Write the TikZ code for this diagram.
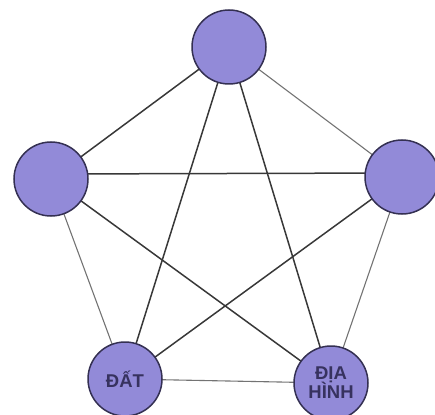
\documentclass[tikz,border=0pt]{standalone}
\usepackage{fontspec}
\setmainfont{Liberation Sans}
\definecolor{nodefill}{RGB}{146,138,216}
\definecolor{nodeedge}{RGB}{52,48,82}
\definecolor{txt}{RGB}{55,50,95}
\begin{document}
\begin{tikzpicture}[x=1pt,y=-1pt,
  ball/.style={circle,draw=nodeedge,line width=1.5pt,fill=nodefill,minimum size=74pt,inner sep=0pt,
    font=\fontsize{18.5}{20}\selectfont\bfseries,text=txt,align=center},
  star/.style={draw=black!78,line width=1.5pt},
  rim/.style={draw=black!55,line width=1.1pt}]
\useasboundingbox (0,0) rectangle (435,414);
\coordinate (t) at (229,47);
\coordinate (l) at (51,179);
\coordinate (r) at (402,177);
\coordinate (d) at (125,379);
\coordinate (h) at (331,383);
\draw[star] (t) -- (l);
\draw[rim] (t) -- (r);
\draw[rim] (l) -- (d);
\draw[rim] (r) -- (h);
\draw[rim] (d) -- (h);
\draw[star] (t) -- (d);
\draw[star] (t) -- (h);
\draw[star] ([yshift=5pt]l) -- ([yshift=4pt]r);
\draw[star] (l) -- (h);
\draw[star] (r) -- (d);
\node[ball] (nt) at (t) {};
\node[ball] (nl) at (l) {};
\node[ball] (nr) at (r) {};
\node[ball] (nd) at (d) {ĐẤT};
\node[ball] (nh) at (h) {ĐỊA\\[-1pt]HÌNH};
\end{tikzpicture}
\end{document}
